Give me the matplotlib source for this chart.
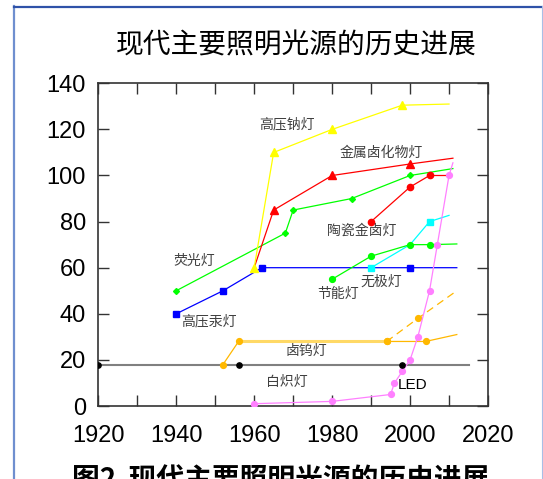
import numpy as np
import matplotlib
matplotlib.use('Agg')
from matplotlib import pyplot as plt
from matplotlib.lines import Line2D

plt.rcParams['font.family'] = ['Noto Sans CJK SC', 'DejaVu Sans']

# --- data ---
# 白炽灯 incandescent
incand_x = [1920, 1956, 1998]
incand_y = [18, 18, 18]
incand_end = 2015
# 卤钨灯 halogen
halogen_x = [1952, 1956]
halogen_y = [18, 28]
halogen_flat_x = [1956, 1994]
halogen_flat_y = [28, 28]
halogen_dash_x = [1994, 2002, 2012]
halogen_dash_y = [28, 38, 50]
halogen_tail_x = [1994, 2004, 2012]
halogen_tail_y = [28, 28, 31]
# 高压汞灯 mercury
mercury_x = [1940, 1952, 1962, 2000, 2012]
mercury_y = [40, 50, 60, 60, 60]
# 荧光灯 fluorescent
fluor_x = [1940, 1968, 1970, 1985, 2000, 2011]
fluor_y = [50, 75, 85, 90, 100, 103]
# 高压钠灯 sodium
sodium_x = [1960, 1965, 1980, 1998, 2010]
sodium_y = [60, 110, 120, 130.5, 131]
# 金属卤化物灯 metal halide
mh_x = [1960, 1965, 1980, 2000, 2011]
mh_y = [60, 85, 100, 105, 107.5]
# 陶瓷金卤灯 ceramic metal halide
cmh_x = [1990, 2000, 2005, 2010]
cmh_y = [80, 95, 100, 100]
# 节能灯 CFL
cfl_x = [1980, 1990, 2000, 2005, 2012]
cfl_y = [55, 65, 70, 70, 70.3]
# 无极灯 induction
ind_x = [1990, 2000, 2005, 2010]
ind_y = [60, 70, 80, 82.7]
# LED
led_x = [1960, 1980, 1995, 1996, 1998, 2000, 2002, 2005, 2007, 2010, 2011]
led_y = [1, 2, 5, 10, 15, 20, 30, 50, 70, 100, 105.5]

labels = [('高压钠灯', 1968.5, 122), ('金属卤化物灯', 1992.5, 110), ('陶瓷金卤灯', 1987.5, 76),
          ('荧光灯', 1944.5, 63), ('高压汞灯', 1948.5, 36.5), ('卤钨灯', 1973.5, 23.8),
          ('白炽灯', 1968.5, 10.5), ('节能灯', 1981.5, 48.5), ('无极灯', 1992.5, 54)]

fig = plt.figure(figsize=(5.43, 4.79), dpi=100)
ax = fig.add_axes([0.181, 0.1524, 0.7177, 0.6737])

ax.plot([incand_x[0], incand_end], [incand_y[0], incand_y[0]], color='#808080', lw=1.5, zorder=2)
ax.plot(incand_x, incand_y, 'o', color='black', ms=3.8, zorder=6)

ax.plot(halogen_flat_x, halogen_flat_y, color='#FFD966', lw=2.2, zorder=2)
ax.plot(halogen_x, halogen_y, '-o', color='#FFB800', lw=0.9, ms=4.2, zorder=3)
ax.plot(halogen_dash_x, halogen_dash_y, '--o', color='#FFB800', lw=0.9, ms=4.2,
        dashes=(6, 4), markevery=[0, 1], zorder=3)
ax.plot(halogen_tail_x, halogen_tail_y, '-o', color='#FFB800', lw=0.9, ms=4.2,
        markevery=[0, 1], zorder=3)

ax.plot(mercury_x, mercury_y, '-s', color='#0000FF', lw=0.9, ms=4.5, markevery=[0, 1, 2, 3], zorder=3)
ax.plot(fluor_x, fluor_y, '-D', color='#00FF00', lw=0.9, ms=3, markevery=[0, 1, 2, 3, 4], zorder=3)
ax.plot(mh_x, mh_y, '-^', color='#FF0000', lw=0.9, ms=6, markevery=[1, 2, 3], zorder=3)
ax.plot(sodium_x, sodium_y, '-^', color='#FFFF00', lw=0.9, ms=6, markevery=[0, 1, 2, 3], zorder=4)
ax.plot(cmh_x, cmh_y, '-o', color='#FF0000', lw=0.9, ms=4.5, markevery=[0, 1, 2], zorder=3)
ax.plot(ind_x, ind_y, '-s', color='#00FFFF', lw=0.9, ms=4.5, markevery=[0, 2], zorder=3)
ax.plot(cfl_x, cfl_y, '-o', color='#00FF00', lw=0.9, ms=4.2, markevery=[0, 1, 2, 3], zorder=4)
ax.plot(led_x, led_y, '-o', color='#FF80FF', lw=0.9, ms=4.2, markevery=list(range(10)), zorder=5)

for txt, x, y in labels:
    ax.text(x, y, txt, fontsize=10, color='#404040', ha='center', va='center', zorder=7)
ax.text(2000.7, 9.1, 'LED', fontsize=11, color='black', ha='center', va='center',
        family=['Liberation Sans', 'DejaVu Sans'], zorder=7)

ax.set_xlim(1920, 2020)
ax.set_ylim(0, 140)
ax.set_xticks(np.arange(1920, 2021, 20))
ax.set_xticks(np.arange(1930, 2021, 20), minor=True)
ax.set_yticks(np.arange(0, 141, 20))
ax.tick_params(which='both', direction='in', length=8, width=1, top=True, right=True, colors='#333333')
ax.tick_params(axis='x', pad=14, labelsize=17, labelcolor='black')
ax.tick_params(axis='y', pad=9, labelsize=17, labelcolor='black')
for lab in ax.get_xticklabels() + ax.get_yticklabels():
    lab.set_family(['Liberation Sans', 'DejaVu Sans'])
for sp in ax.spines.values():
    sp.set_color('#333333')
    sp.set_linewidth(1.2)

fig.text(296 / 543, 1 - 45 / 479, '现代主要照明光源的历史进展', fontsize=20, ha='center', va='center')
fig.text(72 / 543, 1 - 466 / 479, '图2  现代主要照明光源的历史进展', fontsize=20, fontweight='bold',
         ha='left', va='top')

# page border
fig.add_artist(Line2D([14 / 543, 14 / 543], [0, 1 - 6 / 479], color='#6F8FCF', lw=1.6))
fig.add_artist(Line2D([14 / 543, 542 / 543], [1 - 6.5 / 479, 1 - 6.5 / 479], color='#2F52A8', lw=1.6))
fig.add_artist(Line2D([541.5 / 543, 541.5 / 543], [0, 1 - 6 / 479], color='#A9BEE6', lw=0.8))

fig.savefig('out.png', dpi=100)
